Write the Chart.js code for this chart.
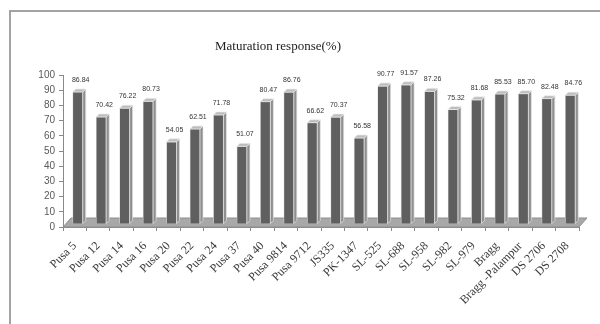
<!DOCTYPE html>
<html>
<head>
<meta charset="utf-8">
<script src="https://cdn.jsdelivr.net/npm/chart.js@4.4.1/dist/chart.umd.min.js"></script>
<style>
  html, body { margin: 0; padding: 0; background: #ffffff; overflow: hidden; }
  #wrap { position: relative; width: 600px; height: 324px; }
  #frame { position: absolute; left: 9px; top: 10px; width: 700px; height: 400px;
           border-left: 2px solid #a3a3a3; border-top: 2px solid #a3a3a3; }
  #c { position: absolute; left: 0; top: 0; }
</style>
</head>
<body>
<div id="wrap">
  <div id="frame"></div>
  <canvas id="c" width="600" height="324"></canvas>
</div>
<script>
// Soybean genotypes and their maturation response (%)
const genotypes = ["Pusa 5", "Pusa 12", "Pusa 14", "Pusa 16", "Pusa 20", "Pusa 22", "Pusa 24",
  "Pusa 37", "Pusa 40", "Pusa 9814", "Pusa 9712", "JS335", "PK-1347", "SL-525", "SL-688",
  "SL-958", "SL-982", "SL-979", "Bragg", "Bragg -Palampur", "DS 2706", "DS 2708"];
const maturationResponse = [86.84, 70.42, 76.22, 80.73, 54.05, 62.51, 71.78, 51.07, 80.47, 86.76,
  66.62, 70.37, 56.58, 90.77, 91.57, 87.26, 75.32, 81.68, 85.53, 85.70, 82.48, 84.76];
const yTicks = [0, 10, 20, 30, 40, 50, 60, 70, 80, 90, 100];
const chartTitle = "Maturation response(%)";

const DEPTH = 3;      // bar depth offset (px)
const FLOOR_DX = 8;   // floor depth, horizontal
const FLOOR_DY = 9;   // floor depth, vertical

// Pseudo-3D floor under the columns
const floorPlugin = {
  id: 'floor3d',
  beforeDatasetsDraw(chart) {
    const { ctx, chartArea: a } = chart;
    ctx.save();
    ctx.beginPath();
    ctx.moveTo(a.left, a.bottom);
    ctx.lineTo(a.right, a.bottom);
    ctx.lineTo(a.right + FLOOR_DX, a.bottom - FLOOR_DY);
    ctx.lineTo(a.left + FLOOR_DX, a.bottom - FLOOR_DY);
    ctx.closePath();
    ctx.fillStyle = '#a8a8a8';
    ctx.fill();
    ctx.strokeStyle = '#8e8e8e';
    ctx.lineWidth = 1;
    ctx.stroke();
    ctx.restore();
    // shift the columns back onto the floor
    ctx.save();
    ctx.translate(DEPTH, -DEPTH);
  },
  afterDatasetsDraw(chart) {
    const { ctx } = chart;
    const meta = chart.getDatasetMeta(0);
    const vals = chart.data.datasets[0].data;
    meta.data.forEach((bar, i) => {
      const w = bar.width;
      const l = bar.x - w / 2, r = bar.x + w / 2, t = bar.y, b = bar.base;
      // side face
      ctx.beginPath();
      ctx.moveTo(r, t); ctx.lineTo(r + DEPTH, t - DEPTH);
      ctx.lineTo(r + DEPTH, b - DEPTH); ctx.lineTo(r, b); ctx.closePath();
      ctx.fillStyle = '#8f8f8f'; ctx.fill();
      ctx.strokeStyle = '#e6e6e6'; ctx.lineWidth = 0.7; ctx.stroke();
      // top face
      ctx.beginPath();
      ctx.moveTo(l, t); ctx.lineTo(l + DEPTH, t - DEPTH);
      ctx.lineTo(r + DEPTH, t - DEPTH); ctx.lineTo(r, t); ctx.closePath();
      ctx.fillStyle = '#bdbdbd'; ctx.fill();
      ctx.strokeStyle = '#ededed'; ctx.stroke();
      // value label
      ctx.fillStyle = '#333333';
      ctx.font = '7px "Liberation Sans"';
      ctx.textAlign = 'center';
      ctx.textBaseline = 'alphabetic';
      ctx.fillText(vals[i].toFixed(2), bar.x + 3, t - DEPTH - 7);
    });
    ctx.restore();
  }
};

// Title placed over the plot
const titlePlugin = {
  id: 'plotTitle',
  afterDraw(chart) {
    const { ctx } = chart;
    ctx.save();
    ctx.fillStyle = '#222222';
    ctx.font = '13px "Liberation Serif"';
    ctx.textAlign = 'center';
    ctx.textBaseline = 'middle';
    ctx.fillText(chartTitle, 278, 47);
    ctx.restore();
  }
};

new Chart(document.getElementById('c'), {
  type: 'bar',
  data: {
    labels: genotypes,
    datasets: [{
      data: maturationResponse,
      backgroundColor: '#5f5f5f',
      borderColor: '#d9d9d9',
      borderWidth: 0.7,
      barThickness: 10
    }]
  },
  plugins: [floorPlugin, titlePlugin],
  options: {
    responsive: false,
    animation: false,
    events: [],
    layout: { padding: { left: 0, right: 21, top: 75, bottom: 0 } },
    plugins: { legend: { display: false }, tooltip: { enabled: false }, title: { display: false } },
    scales: {
      x: {
        grid: { display: true, drawOnChartArea: false, drawTicks: true, tickLength: 4, color: '#8a8a8a', offset: true },
        border: { display: true, color: '#8a8a8a' },
        ticks: {
          autoSkip: false, minRotation: 45, maxRotation: 45, padding: 8,
          color: '#3a3a3a', font: { family: '"Liberation Serif"', size: 12 }
        },
        afterFit(s) { s.height = 97; }
      },
      y: {
        min: 0, max: 100,
        afterBuildTicks(s) { s.ticks = yTicks.map(v => ({ value: v })); },
        grid: { display: true, drawOnChartArea: false, drawTicks: true, tickLength: 4, color: '#8a8a8a' },
        border: { display: true, color: '#8a8a8a' },
        ticks: { color: '#595959', padding: 4, font: { family: '"Liberation Sans"', size: 10 } },
        afterFit(s) { s.width = 63; }
      }
    }
  }
});
</script>
</body>
</html>
